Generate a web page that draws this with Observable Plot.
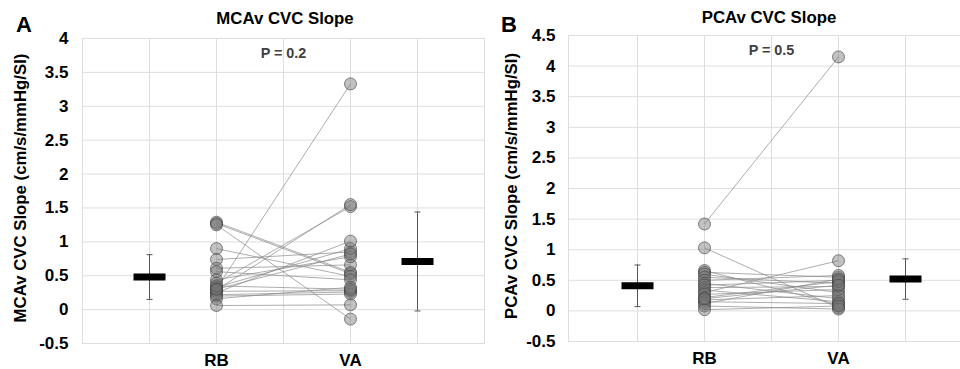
<!DOCTYPE html>
<html><head><meta charset="utf-8">
<script src="https://cdn.jsdelivr.net/npm/d3@7"></script>
<script src="https://cdn.jsdelivr.net/npm/@observablehq/plot@0.6"></script>
<style>
body{margin:0;background:#fff;overflow:hidden;font-family:"Liberation Sans",Arial,sans-serif;color:#000;}
#wrap{position:relative;width:960px;height:369px;overflow:hidden;background:#fff;}
.panel{position:absolute;top:0;}
.letter{position:absolute;font-weight:bold;font-size:22px;line-height:1;}
.title{position:absolute;font-weight:bold;font-size:16.8px;line-height:1;transform:translate(-50%,-50%);white-space:nowrap;}
.ylab{position:absolute;font-weight:bold;font-size:16.8px;line-height:1;white-space:nowrap;transform:translate(-50%,-50%) rotate(-90deg);}
</style></head>
<body>
<div id="wrap">
  <div class="letter" style="left:16px;top:14px;">A</div>
  <div class="title" style="left:285px;top:19px;">MCAv CVC Slope</div>
  <div class="ylab" style="left:21px;top:188px;">MCAv CVC Slope (cm/s/mmHg/SI)</div>
  <div class="letter" style="left:501px;top:14px;">B</div>
  <div class="title" style="left:769px;top:18px;">PCAv CVC Slope</div>
  <div class="ylab" style="left:512px;top:186px;">PCAv CVC Slope (cm/s/mmHg/SI)</div>
</div>
<script>
// ---- data ----
const xCats = ["meanRB", "RB", "mid", "VA", "meanVA"];
const groups = ["RB", "VA"];
const meanCats = ["meanRB", "meanVA"];

// Panel A: MCAv CVC slope, paired subjects
const rbA = [1.29, 1.27, 1.25, 0.90, 0.74, 0.61, 0.56, 0.44, 0.39, 0.33, 0.31, 0.29, 0.27, 0.25, 0.22, 0.20, 0.16, 0.35, 0.30, 0.06];
const vaA = [0.55, 0.53, -0.14, 0.49, 0.85, 0.66, 0.44, 0.78, 1.52, 0.90, 3.33, 1.55, 0.28, 1.01, 0.26, 0.23, 0.33, 0.30, 0.82, 0.07];
const meanA = [0.48, 0.71];
const sdA = [0.33, 0.73];
const yTicksA = [-0.5, 0, 0.5, 1, 1.5, 2, 2.5, 3, 3.5, 4];
const pTextA = "P = 0.2";
const pYA = 3.78;

// Panel B: PCAv CVC slope, paired subjects
const rbB = [1.42, 1.03, 0.66, 0.63, 0.60, 0.55, 0.50, 0.45, 0.42, 0.38, 0.34, 0.30, 0.27, 0.22, 0.18, 0.15, 0.12, 0.08, 0.02, 0.20];
const vaB = [4.15, 0.05, 0.10, 0.55, 0.30, 0.45, 0.58, 0.20, 0.50, 0.40, 0.15, 0.82, 0.35, 0.48, 0.25, 0.12, 0.52, 0.03, 0.08, 0.42];
const meanB = [0.41, 0.52];
const sdB = [0.34, 0.33];
const yTicksB = [-0.5, 0, 0.5, 1, 1.5, 2, 2.5, 3, 3.5, 4, 4.5];
const pTextB = "P = 0.5";
const pYB = 4.25;

// ---- drawing ----
const barSymbol = {draw(ctx) { ctx.rect(-16, -3.5, 32, 7); }};
const capSymbol = {draw(ctx) { ctx.moveTo(-3, 0); ctx.lineTo(3, 0); }};

function panel({rb, va, mean, sd, yTicks, pText, pY, left, width, mL, mR, mT, mB, pad}) {
  const idx = d3.range(rb.length);
  const mi = d3.range(mean.length);
  const grid = "#dedede";
  const plot = Plot.plot({
    width, height: 369,
    marginLeft: mL, marginRight: mR, marginTop: mT, marginBottom: mB,
    style: {background: "transparent", overflow: "visible", fontFamily: "'Liberation Sans', Arial, sans-serif", fontSize: "17px", fontWeight: "bold", color: "#000"},
    x: {type: "point", domain: xCats, padding: 1, range: [mL, width - mR], tickSize: 0, tickPadding: 10,
        tickFormat: d => groups.includes(d) ? d : "", label: null},
    y: {domain: [yTicks[0], yTicks[yTicks.length - 1]], range: [369 - mB, mT], ticks: yTicks, tickSize: 0, tickPadding: pad,
        tickFormat: d => String(d), label: null},
    marks: [
      Plot.ruleY(yTicks, {stroke: grid, strokeWidth: 1}),
      Plot.ruleX(xCats, {stroke: grid, strokeWidth: 1}),
      Plot.frame({stroke: grid}),
      Plot.link(idx, {x1: () => "RB", y1: i => rb[i], x2: () => "VA", y2: i => va[i], stroke: "#8a8a8a", strokeOpacity: 0.7, strokeWidth: 1}),
      Plot.dot(idx, {x: () => "RB", y: i => rb[i], r: 6, fill: "#777", fillOpacity: 0.45, stroke: "#3a3a3a", strokeOpacity: 0.6, strokeWidth: 1}),
      Plot.dot(idx, {x: () => "VA", y: i => va[i], r: 6, fill: "#777", fillOpacity: 0.45, stroke: "#3a3a3a", strokeOpacity: 0.6, strokeWidth: 1}),
      Plot.ruleX(mi, {x: i => meanCats[i], y1: i => mean[i] - sd[i], y2: i => mean[i] + sd[i], stroke: "#555", strokeWidth: 1}),
      Plot.dot(mi, {x: i => meanCats[i], y: i => mean[i] - sd[i], symbol: capSymbol, stroke: "#555", fill: "none", strokeWidth: 1}),
      Plot.dot(mi, {x: i => meanCats[i], y: i => mean[i] + sd[i], symbol: capSymbol, stroke: "#555", fill: "none", strokeWidth: 1}),
      Plot.dot(mi, {x: i => meanCats[i], y: i => mean[i], symbol: barSymbol, fill: "#000", stroke: "none"}),
      Plot.text([pText], {x: () => "mid", y: () => pY, text: d => d, fill: "#404040", fontSize: 14.4, fontWeight: "bold"})
    ]
  });
  plot.classList.add("panel");
  plot.style.left = left + "px";
  document.getElementById("wrap").appendChild(plot);
}

panel({rb: rbA, va: vaA, mean: meanA, sd: sdA, yTicks: yTicksA, pText: pTextA, pY: pYA,
       left: 0, width: 484, mL: 82, mR: 0, mT: 38, mB: 26, pad: 14});
panel({rb: rbB, va: vaB, mean: meanB, sd: sdB, yTicks: yTicksB, pText: pTextB, pY: pYB,
       left: 480, width: 480, mL: 88, mR: -13, mT: 35, mB: 28, pad: 13});
</script>
</body></html>
